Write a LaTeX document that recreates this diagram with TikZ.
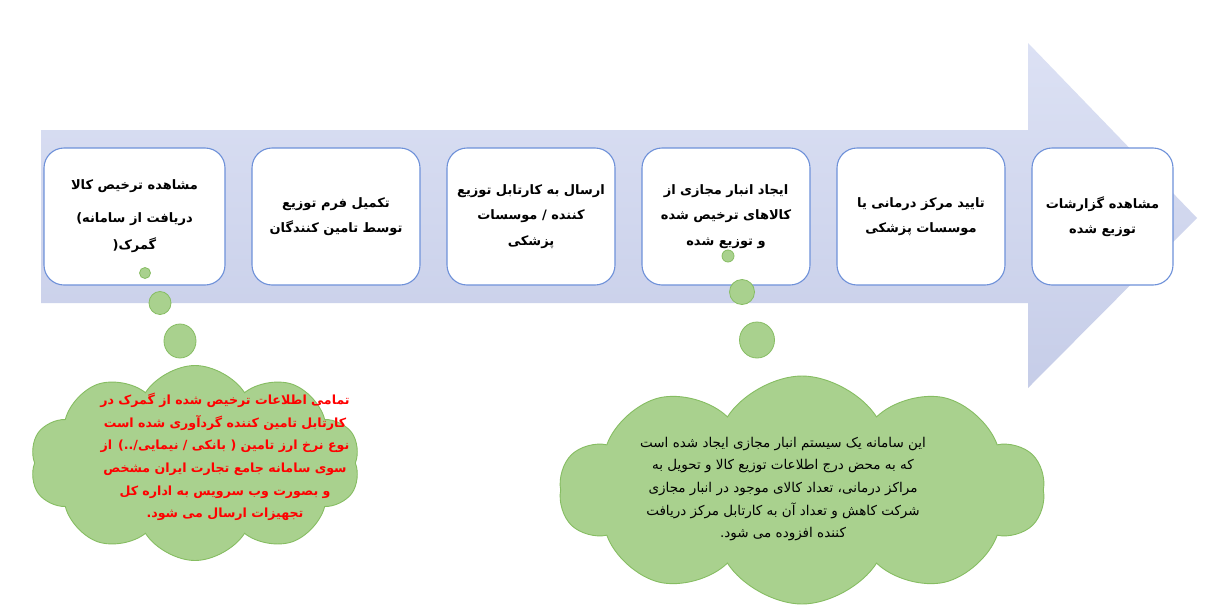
\documentclass[tikz,border=0pt]{standalone}
\usepackage{fontspec}
\usetikzlibrary{shapes.symbols,shapes.geometric}
\TeXXeTstate=1
\newfontfamily\arabicfont[Script=Arabic]{DejaVu Sans}
\newfontfamily\latinbold{DejaVu Sans}
\newcommand{\rl}[1]{\beginR #1\endR}
\definecolor{boxblue}{HTML}{6E91D9}
\definecolor{arrowtop}{HTML}{DCE1F4}
\definecolor{arrowbot}{HTML}{C6CDE8}
\definecolor{cloudfill}{HTML}{A9D18E}
\definecolor{cloudline}{HTML}{86BD62}
\definecolor{redtext}{HTML}{FF0000}
\begin{document}
\begin{tikzpicture}[x=1pt,y=-1pt,
  stepbox/.style={draw=boxblue, line width=1.1pt, fill=white, rounded corners=20pt,
    minimum height=137pt, align=center, inner sep=0pt,
    font=\arabicfont\bfseries\fontsize{13}{25.5}\selectfont},
  bubble/.style={ellipse, draw=cloudline, line width=0.8pt, fill=cloudfill, inner sep=0pt},
  cloudshape/.style={cloud, draw=cloudline, line width=0.9pt, fill=cloudfill, cloud puffs=10,
    cloud puff arc=115, inner sep=0pt},
  cloudtext/.style={align=center, inner sep=0pt}]
\useasboundingbox (0,0) rectangle (1222,613);
\fill[white] (0,0) rectangle (1222,613);
% big arrow
\path[top color=arrowtop, bottom color=arrowbot]
  (41,130) -- (1028,130) -- (1028,43) -- (1197,218) -- (1028,388) -- (1028,303) -- (41,303) -- cycle;
% steps
\node[stepbox, minimum width=181pt] (s1) at (134.5,216.5)
  {\rl{مشاهده ترخیص کالا}\\[7pt] \hbox{\latinbold\bfseries(}\rl{دریافت از سامانه}\\[2pt] \hbox{\latinbold\bfseries)}\rl{گمرک}};
\node[stepbox, minimum width=168pt] (s2) at (336,216.5)
  {\rl{تکمیل فرم توزیع}\\ \rl{توسط تامین کنندگان}};
\node[stepbox, minimum width=168pt] (s3) at (531,216.5)
  {\rl{ارسال به کارتابل توزیع}\\ \rl{کننده / موسسات}\\ \rl{پزشکی}};
\node[stepbox, minimum width=168pt] (s4) at (726,216.5)
  {\rl{ایجاد انبار مجازی از}\\ \rl{کالاهای ترخیص شده}\\ \rl{و توزیع شده}};
\node[stepbox, minimum width=168pt] (s5) at (921,216.5)
  {\rl{تایید مرکز درمانی یا}\\ \rl{موسسات پزشکی}};
\node[stepbox, minimum width=141pt] (s6) at (1102.5,216.5)
  {\rl{مشاهده گزارشات}\\ \rl{توزیع شده}};
% thought bubbles left
\node[bubble, minimum width=11pt, minimum height=11pt] (b1) at (145,273) {};
\node[bubble, minimum width=22pt, minimum height=23pt] (b2) at (160,303) {};
\node[bubble, minimum width=32pt, minimum height=34pt] (b3) at (180,341) {};
% thought bubbles right
\node[bubble, minimum width=12pt, minimum height=12pt] (b4) at (728,256) {};
\node[bubble, minimum width=25pt, minimum height=25pt] (b5) at (742,292) {};
\node[bubble, minimum width=35pt, minimum height=36pt] (b6) at (757,340) {};
% clouds
\node[cloudshape, minimum width=330pt, minimum height=195pt] (c1) at (195,463) {};
\node[cloudshape, minimum width=485pt, minimum height=228pt] (c2) at (802,490) {};
% cloud texts
\node[cloudtext, text=redtext, font=\arabicfont\bfseries\fontsize{12.6}{22.6}\selectfont] (t1) at (225,457)
  {\rl{تمامی اطلاعات ترخیص شده از گمرک در}\\
   \rl{کارتابل تامین کننده گردآوری شده است}\\
   \rl{نوع نرخ ارز تامین ( بانکی / نیمایی/..) از}\\
   \rl{سوی سامانه جامع تجارت ایران مشخص}\\
   \rl{و بصورت وب سرویس به اداره کل}\\
   \rl{تجهیزات ارسال می شود.}};
\node[cloudtext, text=black, font=\arabicfont\fontsize{13.5}{22.6}\selectfont] (t2) at (783,489)
  {\rl{این سامانه یک سیستم انبار مجازی ایجاد شده است}\\
   \rl{که به محض درج اطلاعات توزیع کالا و تحویل به}\\
   \rl{مراکز درمانی، تعداد کالای موجود در انبار مجازی}\\
   \rl{شرکت کاهش و تعداد آن به کارتابل مرکز دریافت}\\
   \rl{کننده افزوده می شود.}};
\end{tikzpicture}
\end{document}
